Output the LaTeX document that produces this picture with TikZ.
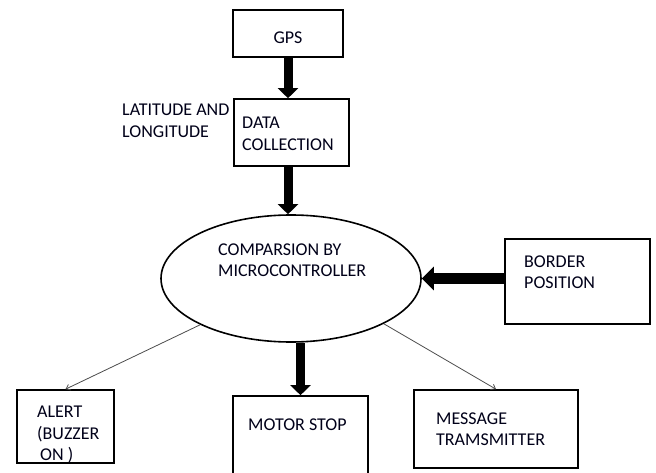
\documentclass[tikz,border=0pt]{standalone}
\usepackage{fontspec}
\setmainfont{Carlito}
\usetikzlibrary{arrows.meta,shapes.geometric}
\tikzset{
  blk/.style={draw=black, line width=1.6pt, rectangle, inner sep=0pt},
  ellp/.style={draw=black, line width=1.6pt, ellipse, inner sep=0pt},
  txt/.style={inner sep=0pt, anchor=north west, align=left, font=\fontsize{18}{21.5}\selectfont, text=black!90!blue},
  thick arrow/.style={line width=9pt, -{Triangle[width=20pt,length=10pt]}},
  thick harrow/.style={line width=11pt, -{Triangle[width=23pt,length=12pt]}},
  thin arrow/.style={draw=black!70, line width=0.8pt, -{Straight Barb[length=4pt,width=6pt]}}
}
\begin{document}
\begin{tikzpicture}[x=1pt,y=-1pt]
\clip (0,0) rectangle (656,473);
\fill[white] (0,0) rectangle (656,473);
% boxes
\node[blk, minimum width=110pt, minimum height=47pt] (gps) at (288,33.5) {};
\node[blk, minimum width=115pt, minimum height=67pt] (data) at (291.5,132.5) {};
\node[ellp, minimum width=260pt, minimum height=127pt] (ell) at (291,278.5) {};
\node[blk, minimum width=145pt, minimum height=85pt] (border) at (577.5,281.5) {};
\node[blk, minimum width=97pt, minimum height=73pt] (alert) at (65.5,426.5) {};
\node[blk, minimum width=135pt, minimum height=94pt] (motor) at (300.5,443) {};
\node[blk, minimum width=164pt, minimum height=78pt] (msg) at (496,429) {};
% texts
\node[txt, anchor=center] (gpst) at (288,38) {GPS};
\node[txt] (latt) at (122,104.2) {LATITUDE AND\\LONGITUDE};
\node[txt] (datat) at (242,117.2) {DATA\\COLLECTION};
\node[txt] (compt) at (218,243.2) {COMPARSION BY\\MICROCONTROLLER};
\node[txt] (bordert) at (524,255.2) {BORDER\\POSITION};
\node[txt] (alertt) at (37,406.2) {ALERT\\(BUZZER\\\hspace*{3pt}ON )};
\node[txt] (motort) at (248,418.2) {MOTOR STOP};
\node[txt] (msgt) at (436,412.2) {MESSAGE\\TRAMSMITTER};
% connectors
\draw[thick arrow] (gps.south) -- (gps.south |- data.north);
\draw[thick arrow] (gps.south |- data.south) -- (gps.south |- ell.north);
\draw[thick arrow] (motor.north |- ell.south) -- (motor.north);
\draw[thick harrow] (border.west |- ell.east) -- (ell.east);
\draw[thin arrow] (ell.207) -- (alert.north);
\draw[thin arrow] (ell.334) -- (msg.north);
\end{tikzpicture}
\end{document}
